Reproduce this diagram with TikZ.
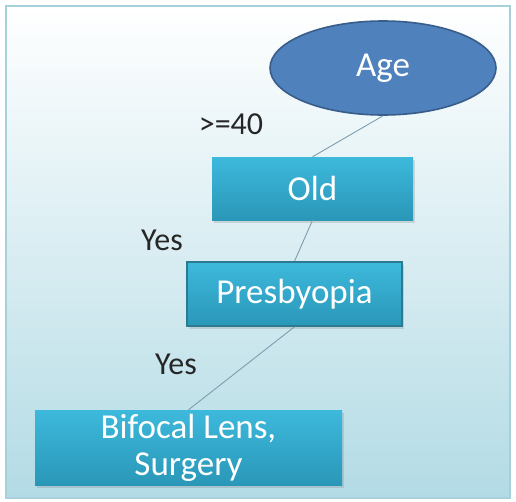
\documentclass[tikz,border=0pt]{standalone}
\usepackage{fontspec}
\setmainfont{Carlito}
\usepackage{xcolor}
\usepackage{tikz}
\usetikzlibrary{shapes.geometric,shadows}
\definecolor{agefill}{HTML}{4F81BD}
\definecolor{ageline}{HTML}{385D8A}
\definecolor{boxtop}{HTML}{3DB9DC}
\definecolor{boxbot}{HTML}{2A97B8}
\definecolor{boxline}{HTML}{2C7A90}
\definecolor{linkcol}{HTML}{7F9DB0}
\definecolor{bgbot}{HTML}{B3DBE5}
\definecolor{framecol}{HTML}{A8D0DA}
\tikzset{
    agenode/.style={ellipse,draw=ageline,line width=1.6pt,fill=agefill,text=white,
        font=\fontsize{35}{37}\selectfont,inner sep=0pt},
    boxnode/.style={rectangle,top color=boxtop,bottom color=boxbot,text=white,
        font=\fontsize{35}{37}\selectfont,inner sep=0pt,align=center,
        drop shadow={shadow xshift=2pt,shadow yshift=-3pt,opacity=0.25}},
    branchlabel/.style={text=black!85,font=\fontsize{32}{36}\selectfont,inner sep=0pt},
    link/.style={draw=linkcol,line width=0.9pt}
}

\begin{document}
\begin{tikzpicture}[x=1pt,y=-1pt]
    % Background panel
    \useasboundingbox (0,0) rectangle (516,501);
    \shade[top color=white,bottom color=bgbot] (6,6) rectangle (510,498);
    \draw[framecol,line width=2pt] (6,6) rectangle (510,498);

    % Nodes of the tree
    \node[agenode,minimum width=226pt,minimum height=94pt] (age) at (383,68) {Age};
    \node[boxnode,minimum width=201pt,minimum height=63pt] (old) at (312.5,188.5) {Old};
    \node[boxnode,draw=boxline,line width=1.6pt,minimum width=215pt,minimum height=64pt]
        (presb) at (294.5,294) {Presbyopia};
    \node[boxnode,minimum width=307pt,minimum height=75pt] (bifocal) at (188.5,447.5)
        {Bifocal Lens,\\Surgery};

    % Branch labels
    \node[branchlabel] (ge40) at (231,124) {>=40};
    \node[branchlabel] (yesa) at (162,240) {Yes};
    \node[branchlabel] (yesb) at (176,364) {Yes};

    % Connectors
    \draw[link] (age.south) -- (old.north);
    \draw[link] (old.south) -- (presb.north);
    \draw[link] (presb.south) -- (bifocal.north);
\end{tikzpicture}
\end{document}
